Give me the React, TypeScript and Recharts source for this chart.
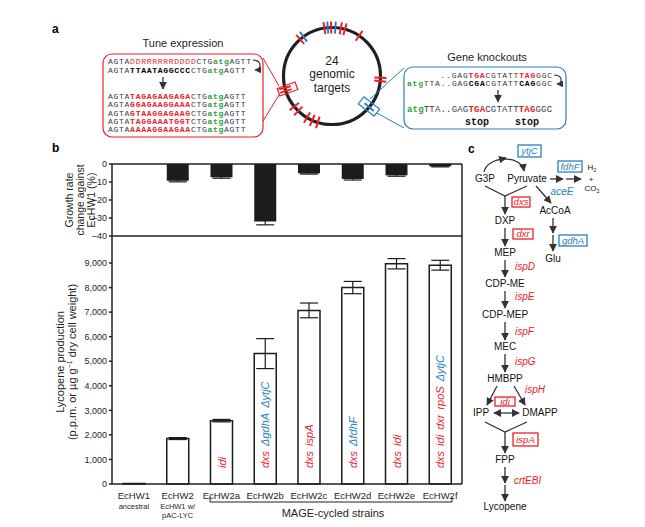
import { BarChart, Bar, XAxis, YAxis, ErrorBar, ReferenceLine, LabelList } from 'recharts'

const strains = ['EcHW1', 'EcHW2', 'EcHW2a', 'EcHW2b', 'EcHW2c', 'EcHW2d', 'EcHW2e', 'EcHW2f']
const strainNotes = [['ancestral'], ['EcHW1 w/', 'pAC-LYC'], [], [], [], [], [], []]
const growthChange = [0, -9.3, -7.4, -32.0, -5.2, -8.3, -6.3, -1.3]
const growthErr = [0, 0.6, 0.5, 1.8, 0.4, 0.6, 0.5, 0.3]
const lycopene = [20, 1850, 2580, 5310, 7070, 8000, 8970, 8910]
const lycopeneErr = [0, 40, 50, 610, 300, 250, 210, 200]
const mutations = [
  [], [], ['idi'], ['dxs', 'ΔgdhA', 'ΔytjC'], ['dxs', 'ispA'],
  ['dxs', 'ΔfdhF'], ['dxs', 'idi'], ['dxs', 'idi', 'dxr', 'rpoS', 'ΔytjC'],
]
const growthTicks = [0, -10, -20, -30, -40]
const lycopeneTicks = [0, 1000, 2000, 3000, 4000, 5000, 6000, 7000, 8000, 9000]

const RED = '#e8202a'
const BLUE = '#2a7fc1'
const GREEN = '#2f9e3a'
const INK = '#231f20'
const FONT = '"Liberation Sans", Arial, sans-serif'
const MONO = '"Liberation Mono", "DejaVu Sans Mono", monospace'

const rows = strains.map((s, i) => ({
  strain: s,
  growth: growthChange[i],
  growthErr: growthErr[i],
  lyc: lycopene[i],
  lycErr: lycopeneErr[i],
}))

// sequence segments: n normal, R red, r red bold, b bold, g green
const tuneLines = [
  [['AGTA', 'n'], ['DDRRRRRRDDDD', 'R'], ['CTG', 'n'], ['atg', 'g'], ['AGTT', 'n']],
  [['AGTA', 'n'], ['TTAATAGGCCC', 'b'], ['CTG', 'n'], ['atg', 'g'], ['AGTT', 'n']],
  [['AGTA', 'n'], ['TAGAGAAGAGA', 'r'], ['CTG', 'n'], ['atg', 'g'], ['AGTT', 'n']],
  [['AGTA', 'n'], ['GGAGAAGGAAA', 'r'], ['CTG', 'n'], ['atg', 'g'], ['AGTT', 'n']],
  [['AGTA', 'n'], ['GTAAGGAGAAG', 'r'], ['CTG', 'n'], ['atg', 'g'], ['AGTT', 'n']],
  [['AGTA', 'n'], ['TAGGAAATGGT', 'r'], ['CTG', 'n'], ['atg', 'g'], ['AGTT', 'n']],
  [['AGTA', 'n'], ['AAAAGGAAGAA', 'r'], ['CTG', 'n'], ['atg', 'g'], ['AGTT', 'n']],
]
const tuneY = [63.5, 73, 99, 107.3, 115.6, 123.9, 132.2]

const knockLines = [
  [['..GAG', 'n'], ['TGA', 'r'], ['CGTATT', 'n'], ['TAG', 'r'], ['GGC', 'n']],
  [['atg', 'g'], ['TTA..GAG', 'n'], ['CGA', 'b'], ['CGTATT', 'n'], ['CAG', 'b'], ['GGC', 'n']],
  [['atg', 'g'], ['TTA..GAG', 'n'], ['TGA', 'r'], ['CGTATT', 'n'], ['TAG', 'r'], ['GGC', 'n']],
]
const knockX = [440.5, 407, 407]
const knockY = [78, 86.2, 112]

// decoration ticks on the genome circle (degrees clockwise from top)
const redTicks = [-9, -1, 10.5, 15.5, 34, -41, 92, 96, 197, 204, 211, 224, 231]
const blueTicks = [-5, 4, -36]

function segStyle(k: string) {
  if (k === 'R') return { fill: RED }
  if (k === 'r') return { fill: RED, fontWeight: 700 }
  if (k === 'b') return { fill: '#000', fontWeight: 700 }
  if (k === 'g') return { fill: GREEN, fontWeight: 700 }
  return { fill: '#3a3a4a' }
}

function SeqLine({ segs, x, y, size, charW }: { segs: string[][]; x: number; y: number; size: number; charW: number }) {
  const n = segs.reduce((a, s) => a + s[0].length, 0)
  return (
    <text x={x} y={y} fontFamily={MONO} fontSize={size} xmlSpace="preserve"
      textLength={n * charW} lengthAdjust="spacing">
      {segs.map((s, i) => (
        <tspan key={i} {...segStyle(s[1])}>{s[0]}</tspan>
      ))}
    </text>
  )
}

function StrainTick(props: any) {
  const { x, y, payload } = props
  const i = strains.indexOf(payload.value)
  return (
    <g transform={`translate(${x},${y})`}>
      <text textAnchor="middle" y={7} fontSize={9.5} fill={INK} fontFamily={FONT}>{payload.value}</text>
      {(strainNotes[i] || []).map((n, k) => (
        <text key={k} textAnchor="middle" y={17 + k * 9} fontSize={7.5} fill={INK} fontFamily={FONT}>{n}</text>
      ))}
    </g>
  )
}

function MutationLabel(props: any) {
  const vb = props.viewBox || props
  const x = props.x ?? vb.x
  const y = props.y ?? vb.y
  const width = props.width ?? vb.width
  const height = props.height ?? vb.height
  const i = strains.indexOf(props.value)
  const muts = mutations[i] || []
  if (!muts.length) return null
  const cx = x + width / 2 + 4
  const by = y + height - 16
  return (
    <text x={cx} y={by} transform={`rotate(-90 ${cx} ${by})`} fontSize={11} fontStyle="italic" fontFamily={FONT}>
      {muts.map((m, k) => (
        <tspan key={k} dx={k ? 5 : 0} fill={m.startsWith('Δ') ? BLUE : RED}>{m}</tspan>
      ))}
    </text>
  )
}

const fmtGrowth = (v: number) => (v < 0 ? '–' + Math.abs(v) : String(v))
const fmtLyc = (v: number) => v.toLocaleString('en-US')

function Arrow({ x1, y1, x2, y2, both }: { x1: number; y1: number; x2: number; y2: number; both?: boolean }) {
  return (
    <line x1={x1} y1={y1} x2={x2} y2={y2} stroke="#333" strokeWidth={1.3}
      markerEnd="url(#ah)" markerStart={both ? 'url(#ahs)' : undefined} />
  )
}

function GeneBox({ x, y, w, h, label, color }: { x: number; y: number; w: number; h: number; label: string; color: string }) {
  return (
    <g>
      <rect x={x} y={y} width={w} height={h} fill="#fff" stroke={color} strokeWidth={1.3} />
      <text x={x + w / 2} y={y + h / 2 + 3.3} textAnchor="middle" fontSize={9.5} fontStyle="italic" fill={color}>{label}</text>
    </g>
  )
}

function CircleTick({ deg, color }: { deg: number; color: string }) {
  const cx = 332, cy = 76, r = 48.5
  const a = (deg * Math.PI) / 180
  const dx = Math.sin(a), dy = -Math.cos(a)
  return (
    <line x1={cx + dx * (r - 6)} y1={cy + dy * (r - 6)} x2={cx + dx * (r + 6)} y2={cy + dy * (r + 6)}
      stroke={color} strokeWidth={2} />
  )
}

function Overlay() {
  const pathTexts: [string, number, number][] = [
    ['G3P', 485, 182], ['Pyruvate', 527, 182], ['AcCoA', 555, 214], ['Glu', 553, 262],
    ['DXP', 505, 224], ['MEP', 505, 256], ['CDP-ME', 505, 287], ['CDP-MEP', 505, 318],
    ['MEC', 505, 350], ['HMBPP', 505, 382], ['IPP', 481, 416], ['DMAPP', 540, 416],
    ['FPP', 505, 463], ['Lycopene', 505, 510],
  ]
  const redGenes: [string, number, number][] = [
    ['ispD', 515, 270], ['ispE', 515, 300], ['ispF', 515, 335], ['ispG', 515, 365],
    ['ispH', 525, 393], ['crtEBI', 514, 484],
  ]
  return (
    <svg width={645} height={527} style={{ position: 'absolute', left: 0, top: 0, pointerEvents: 'none' }}
      fontFamily={FONT}>
      <defs>
        <marker id="ah" viewBox="0 0 10 10" refX="9" refY="5" markerWidth="6" markerHeight="6" orient="auto">
          <path d="M0 0 L10 5 L0 10 z" fill="#333" />
        </marker>
        <marker id="ahs" viewBox="0 0 10 10" refX="1" refY="5" markerWidth="6" markerHeight="6" orient="auto">
          <path d="M10 0 L0 5 L10 10 z" fill="#333" />
        </marker>
      </defs>

      {/* panel a */}
      <text x={52} y={33} fontSize={12} fontWeight={700} fill="#000">a</text>
      <text x={183} y={47} fontSize={11} textAnchor="middle" fill={INK}>Tune expression</text>
      <rect x={103} y={54} width={160} height={83} rx={9} fill="none" stroke={RED} strokeWidth={1.2} />
      {tuneLines.map((l, i) => <SeqLine key={i} segs={l} x={108} y={tuneY[i]} size={8.1} charW={5.5} />)}
      <path d="M253 60 C262 60, 262 70, 255 70" fill="none" stroke="#333" strokeWidth={1.2} markerEnd="url(#ah)" />
      <Arrow x1={163} y1={77} x2={163} y2={89} />
      <line x1={263} y1={58} x2={279} y2={86} stroke={RED} strokeWidth={1} />
      <line x1={263} y1={121} x2={279} y2={95} stroke={RED} strokeWidth={1} />

      <circle cx={332} cy={76} r={48.5} fill="none" stroke="#231f20" strokeWidth={3.2} />
      {redTicks.map((d, i) => <CircleTick key={'r' + i} deg={d} color={RED} />)}
      {blueTicks.map((d, i) => <CircleTick key={'b' + i} deg={d} color={BLUE} />)}
      <CircleTick deg={252} color={RED} />
      <CircleTick deg={256} color={RED} />
      <CircleTick deg={130} color={BLUE} />
      <rect x={278} y={85} width={19} height={8} fill="none" stroke={RED} strokeWidth={1.2} transform="rotate(-20 287.5 89)" />
      <rect x={359} y={102} width={20} height={9} fill="none" stroke={BLUE} strokeWidth={1.2} transform="rotate(38 369 106.5)" />
      <text x={332} y={65} fontSize={12} textAnchor="middle" fill={INK}>24</text>
      <text x={332} y={78} fontSize={12} textAnchor="middle" fill={INK}>genomic</text>
      <text x={332} y={92} fontSize={12} textAnchor="middle" fill={INK}>targets</text>

      <text x={487} y={61} fontSize={11} textAnchor="middle" fill={INK}>Gene knockouts</text>
      <line x1={370} y1={99} x2={404} y2={68} stroke={BLUE} strokeWidth={1} />
      <line x1={377} y1={113} x2={404} y2={128} stroke={BLUE} strokeWidth={1} />
      <rect x={404} y={67} width={162} height={62} rx={9} fill="none" stroke={BLUE} strokeWidth={1.2} />
      {knockLines.map((l, i) => <SeqLine key={i} segs={l} x={knockX[i]} y={knockY[i]} size={i < 2 ? 8 : 9} charW={5.58} />)}
      <path d="M554 75 C563 75, 563 84, 557 84" fill="none" stroke="#333" strokeWidth={1.2} markerEnd="url(#ah)" />
      <Arrow x1={498} y1={90} x2={498} y2={102} />
      <text x={477} y={124.5} fontSize={10} fontFamily={MONO} fontWeight={700} textAnchor="middle" fill="#111">stop</text>
      <text x={527} y={124.5} fontSize={10} fontFamily={MONO} fontWeight={700} textAnchor="middle" fill="#111">stop</text>

      {/* panel b labels */}
      <text x={52} y={152} fontSize={12} fontWeight={700} fill="#000">b</text>
      <g transform="rotate(-90 0 0)" fontSize={10.5} fill={INK} textAnchor="middle">
        <text x={-200} y={72.5}>Growth rate</text>
        <text x={-200} y={83.5}>change against</text>
        <text x={-200} y={94.5}>EcHW1 (%)</text>
        <text x={-362} y={63.5} fontSize={11}>Lycopene production</text>
        <text x={-362} y={76} fontSize={11}>
          (p.p.m. or µg g<tspan dy={-4} fontSize={7}>−1</tspan><tspan dy={4}> dry cell weight)</tspan>
        </text>
      </g>
      <path d="M210 497 L210 502 L452 502 L452 497" fill="none" stroke={INK} strokeWidth={1} />
      <text x={333} y={517} fontSize={11} textAnchor="middle" fill={INK}>MAGE-cycled strains</text>

      {/* panel c */}
      <text x={468} y={153} fontSize={12} fontWeight={700} fill="#000">c</text>
      <g fontSize={10} fill="#111" textAnchor="middle">
        {pathTexts.map(([t, x, y]) => <text key={t} x={x} y={y}>{t}</text>)}
      </g>
      <g fontSize={8} fill="#111" textAnchor="middle">
        <text x={592} y={170}>H<tspan fontSize={5.5} dy={1.5}>2</tspan></text>
        <text x={591} y={181.5}>+</text>
        <text x={592} y={191}>CO<tspan fontSize={5.5} dy={1.5}>2</tspan></text>
      </g>
      <g fontSize={10} fontStyle="italic" fill={RED}>
        {redGenes.map(([t, x, y]) => <text key={t} x={x} y={y}>{t}</text>)}
      </g>
      <text x={562} y={195} fontSize={10} fontStyle="italic" fill={BLUE} textAnchor="middle">aceE</text>
      <path d="M484 172 C487 156, 521 154, 524 171" fill="none" stroke="#333" strokeWidth={1.3} markerEnd="url(#ah)" />
      <path d="M500 159.5 L506 158" fill="none" stroke="#333" strokeWidth={1.3} markerEnd="url(#ah)" />
      <Arrow x1={550} y1={179} x2={563} y2={179} />
      <Arrow x1={566} y1={179} x2={581} y2={179} />
      <Arrow x1={536} y1={186} x2={551} y2={203} />
      <Arrow x1={553} y1={218} x2={553} y2={233} />
      <Arrow x1={553} y1={235} x2={553} y2={251} />
      <polyline points="485,186 505,196 527,186" fill="none" stroke="#333" strokeWidth={1.3} />
      <Arrow x1={505} y1={196} x2={505} y2={214} />
      <Arrow x1={505} y1={228} x2={505} y2={246} />
      <Arrow x1={505} y1={260} x2={505} y2={277} />
      <Arrow x1={505} y1={291} x2={505} y2={308} />
      <Arrow x1={505} y1={322} x2={505} y2={340} />
      <Arrow x1={505} y1={354} x2={505} y2={372} />
      <Arrow x1={497} y1={386} x2={487} y2={405} />
      <Arrow x1={514} y1={386} x2={525} y2={405} />
      <Arrow x1={494} y1={413} x2={519} y2={413} both />
      <polyline points="485,422 505,432 527,422" fill="none" stroke="#333" strokeWidth={1.3} />
      <Arrow x1={505} y1={432} x2={505} y2={453} />
      <Arrow x1={505} y1={467} x2={505} y2={483} />
      <Arrow x1={505} y1={485} x2={505} y2={501} />
      <GeneBox x={518} y={145} w={23} h={12} label="ytjC" color={BLUE} />
      <GeneBox x={558} y={161} w={24} h={11} label="fdhF" color={BLUE} />
      <GeneBox x={559} y={235} w={28} h={11} label="gdhA" color={BLUE} />
      <GeneBox x={512} y={197} w={18} h={10} label="dxs" color={RED} />
      <GeneBox x={513} y={229} w={20} h={10} label="dxr" color={RED} />
      <GeneBox x={495} y={397} w={20} h={9} label="idi" color={RED} />
      <GeneBox x={513} y={433} w={25} h={13} label="ispA" color={RED} />
    </svg>
  )
}

export default function App() {
  const axisStroke = { stroke: INK, strokeWidth: 1.5 }
  const tickStyle = { fontSize: 9, fill: INK, fontFamily: FONT }
  return (
    <div style={{ position: 'absolute', left: 0, top: 0, width: 645, height: 527, background: '#fff', fontFamily: FONT }}>
      <div style={{ position: 'absolute', left: 0, top: 0 }}>
        <BarChart width={645} height={527} data={rows} barCategoryGap={0}
          margin={{ top: 164, right: 182, bottom: 291, left: 72 }}>
          <XAxis dataKey="strain" hide />
          <YAxis yAxisId="l" width={40} domain={[-40, 0]} ticks={growthTicks} tickFormatter={fmtGrowth}
            tick={tickStyle} tickSize={3} axisLine={axisStroke} tickLine={axisStroke} interval={0} />
          <YAxis yAxisId="r" orientation="right" width={1} domain={[-40, 0]} tick={false} tickLine={false}
            axisLine={axisStroke} />
          <ReferenceLine yAxisId="l" y={0} stroke={INK} strokeWidth={1.5} />
          <ReferenceLine yAxisId="l" y={-40} stroke={INK} strokeWidth={1.5} />
          <Bar yAxisId="l" dataKey="growth" fill="#1c1c1c" barSize={22} isAnimationActive={false}>
            <ErrorBar dataKey="growthErr" width={9} stroke="#1c1c1c" strokeWidth={1.2} />
          </Bar>
        </BarChart>
      </div>
      <div style={{ position: 'absolute', left: 0, top: 0 }}>
        <BarChart width={645} height={527} data={rows} barCategoryGap={0}
          margin={{ top: 236, right: 182, bottom: 3, left: 72 }}>
          <XAxis dataKey="strain" height={40} tick={<StrainTick />} tickLine={false} axisLine={axisStroke} interval={0} />
          <YAxis yAxisId="l" width={40} domain={[0, 10100]} ticks={lycopeneTicks} tickFormatter={fmtLyc}
            tick={tickStyle} tickSize={3} axisLine={axisStroke} tickLine={axisStroke} interval={0} />
          <YAxis yAxisId="r" orientation="right" width={1} domain={[0, 10100]} tick={false} tickLine={false}
            axisLine={axisStroke} />
          <Bar yAxisId="l" dataKey="lyc" fill="#fff" stroke="#1c1c1c" strokeWidth={1.5} barSize={22}
            isAnimationActive={false}>
            <ErrorBar dataKey="lycErr" width={9} stroke="#1c1c1c" strokeWidth={1.2} />
            <LabelList dataKey="strain" content={MutationLabel} />
          </Bar>
        </BarChart>
      </div>
      <Overlay />
    </div>
  )
}
